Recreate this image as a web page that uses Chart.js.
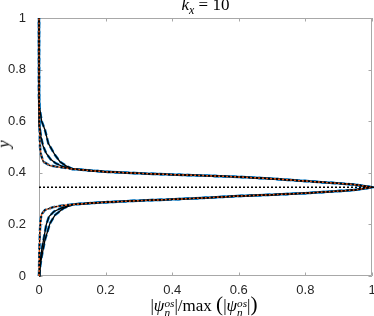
<!DOCTYPE html>
<html lang="en">
<head>
    <meta charset="UTF-8">
    <title>k_x = 10 profile</title>
    <script src="https://cdn.jsdelivr.net/npm/chart.js"></script>
    <style>
        * { margin: 0; padding: 0; box-sizing: border-box; }
        body { background: #fff; width: 374px; height: 316px; overflow: hidden; position: relative; }
        #wrap { position: absolute; left: 0; top: 0; width: 374px; height: 316px; }
        .math { position: absolute; font-family: 'Liberation Serif', 'DejaVu Serif', serif; color: #000; white-space: nowrap; line-height: 16px; }
        #title { left: 0; width: 411px; top: -3px; text-align: center; font-size: 17px; }
        #title sub { font-size: 0.7em; vertical-align: -0.3em; }
        #xlabel { left: 0; width: 408px; top: 296px; text-align: center; font-size: 17px; }
        #ylabel { left: 0px; top: 136px; font-size: 17px; transform: rotate(-90deg); }
        .ss { display: inline-block; vertical-align: -0.45em; line-height: 0.85; font-size: 0.66em; text-align: left; }
        .ss span { display: block; }
        .big { font-size: 1.25em; }
    </style>
</head>
<body>
    <div id="wrap"><canvas id="chart" width="374" height="316"></canvas></div>
    <div class="math" id="title"><i>k</i><sub><i>x</i></sub> = 10</div>
    <div class="math" id="xlabel">|<i>ψ</i><span class="ss"><span><i>os</i></span><span><i>η</i></span></span>|/max <span class="big">(</span>|<i>ψ</i><span class="ss"><span><i>os</i></span><span><i>η</i></span></span>|<span class="big">)</span></div>
    <div class="math" id="ylabel"><i>y</i></div>

    <script>
        // axis ticks
        const xTicks = [0, 0.2, 0.4, 0.6, 0.8, 1];
        const yTicks = [0, 0.2, 0.4, 0.6, 0.8, 1];

        // shared branches of the profile (lower goes out to the peak, upper comes back)
        const lowerX = [0.1, 0.15, 0.2, 0.3, 0.4, 0.5, 0.6, 0.7, 0.8, 0.9, 0.95, 1];
        const lowerY = [0.277, 0.282, 0.286, 0.292, 0.297, 0.303, 0.310, 0.315, 0.321, 0.329, 0.334, 0.344];
        const upperX = [0.95, 0.9, 0.8, 0.7, 0.6, 0.5, 0.4, 0.3, 0.2, 0.15, 0.1];
        const upperY = [0.354, 0.359, 0.368, 0.377, 0.384, 0.389, 0.393, 0.398, 0.404, 0.409, 0.415];

        // near-wall tails of the three profiles
        const innerLowX = [0, 0.001, 0.003, 0.005, 0.008, 0.018, 0.043, 0.07];
        const innerLowY = [0, 0.1, 0.18, 0.22, 0.24, 0.256, 0.267, 0.273];
        const innerUpX = [0.06, 0.033, 0.013, 0.006, 0.003, 0.001, 0, 0];
        const innerUpY = [0.422, 0.428, 0.443, 0.47, 0.5, 0.6, 0.8, 1];

        const midLowX = [0, 0.003, 0.008, 0.015, 0.022, 0.03, 0.045, 0.07];
        const midLowY = [0, 0.05, 0.1, 0.15, 0.2, 0.23, 0.25, 0.265];
        const midUpX = [0.07, 0.05, 0.035, 0.022, 0.012, 0.006, 0.002, 0, 0];
        const midUpY = [0.425, 0.437, 0.452, 0.475, 0.505, 0.54, 0.58, 0.7, 1];

        const outerLowX = [0, 0.004, 0.008, 0.018, 0.033, 0.048, 0.073];
        const outerLowY = [0, 0.04, 0.075, 0.14, 0.204, 0.236, 0.262];
        const outerUpX = [0.08, 0.063, 0.048, 0.028, 0.018, 0.008, 0.002, 0, 0];
        const outerUpY = [0.428, 0.443, 0.469, 0.514, 0.566, 0.6, 0.65, 0.7, 1];

        // dotted line through the peak
        const peakX = [0, 1];
        const peakY = [0.344, 0.344];

        function pts(xs, ys) {
            return xs.map((x, i) => ({ x: x, y: ys[i] }));
        }

        function profile(lowX, lowY, upX, upY) {
            return [].concat(pts(lowX, lowY), pts(lowerX, lowerY), pts(upperX, upperY), pts(upX, upY));
        }

        const inner = profile(innerLowX, innerLowY, innerUpX, innerUpY);
        const mid = profile(midLowX, midLowY, midUpX, midUpY);
        const outer = profile(outerLowX, outerLowY, outerUpX, outerUpY);

        function line(data, color, width, dash, order, offset) {
            return {
                data: data, borderColor: color, borderWidth: width, borderDash: dash || [],
                borderDashOffset: offset || 0, showLine: true, pointRadius: 0, tension: 0,
                fill: false, order: order, clip: 6
            };
        }

        const boxPlugin = {
            id: 'box',
            beforeDatasetsDraw(chart) {
                const { ctx, chartArea: a, scales } = chart;
                ctx.save();
                ctx.strokeStyle = '#a8a8a8';
                ctx.lineWidth = 1;
                ctx.beginPath();
                ctx.rect(a.left + 0.5, a.top + 0.5, a.right - a.left - 1, a.bottom - a.top - 1);
                xTicks.forEach(v => {
                    const px = Math.round(scales.x.getPixelForValue(v)) + 0.5;
                    ctx.moveTo(px, a.bottom); ctx.lineTo(px, a.bottom - 3.5);
                    ctx.moveTo(px, a.top); ctx.lineTo(px, a.top + 3.5);
                });
                yTicks.forEach(v => {
                    const py = Math.round(scales.y.getPixelForValue(v)) + 0.5;
                    ctx.moveTo(a.left, py); ctx.lineTo(a.left + 3.5, py);
                    ctx.moveTo(a.right, py); ctx.lineTo(a.right - 3.5, py);
                });
                ctx.stroke();
                ctx.restore();
            }
        };

        const tickFont = { family: "'Liberation Sans', Arial, sans-serif", size: 13 };

        new Chart(document.getElementById('chart').getContext('2d'), {
            type: 'scatter',
            data: {
                datasets: [
                    line(pts(peakX, peakY), '#000000', 1.5, [2, 2], 0),
                    line(inner, '#000000', 1.5, [2, 2], 1, 2),
                    line(inner, '#D95319', 1.5, [2, 2], 2),
                    line(mid, '#000000', 1.3, [], 3),
                    line(outer, '#000000', 1.3, [], 4),
                    line(inner, '#0072BD', 2.5, [6, 3], 5),
                    line(mid, '#0072BD', 2.5, [6, 3], 6),
                    line(outer, '#0072BD', 2.5, [6, 3], 7)
                ]
            },
            options: {
                responsive: false,
                animation: false,
                events: [],
                layout: { padding: { top: 18, right: 2, left: 0, bottom: 0 } },
                plugins: { legend: { display: false }, tooltip: { enabled: false } },
                scales: {
                    x: {
                        type: 'linear', min: 0, max: 1,
                        afterBuildTicks: s => { s.ticks = xTicks.map(v => ({ value: v })); },
                        afterFit: s => { s.height = 40; s.paddingLeft = 0; s.paddingRight = 0; },
                        ticks: { callback: v => String(+v.toFixed(1)), font: tickFont, color: '#262626', padding: -1, maxRotation: 0 },
                        grid: { display: false },
                        border: { display: false }
                    },
                    y: {
                        type: 'linear', min: 0, max: 1,
                        afterBuildTicks: s => { s.ticks = yTicks.map(v => ({ value: v })); },
                        afterFit: s => { s.width = 39; },
                        ticks: { callback: v => String(+v.toFixed(1)), font: tickFont, color: '#262626', padding: 5 },
                        grid: { display: false },
                        border: { display: false }
                    }
                }
            },
            plugins: [boxPlugin]
        });
    </script>
</body>
</html>
